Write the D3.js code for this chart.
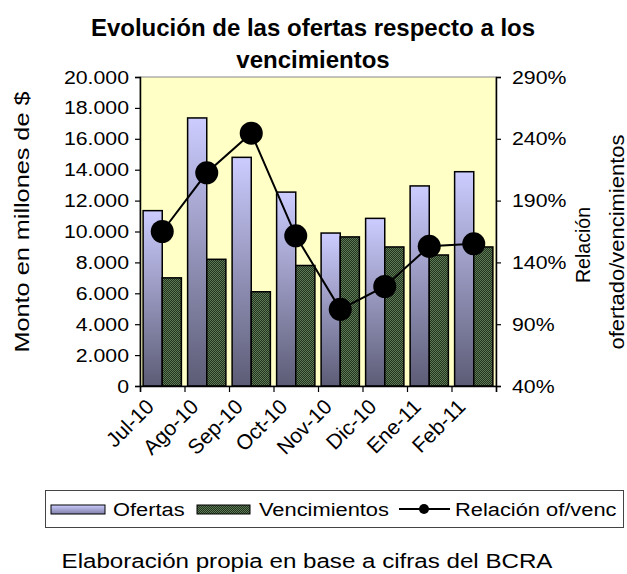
<!DOCTYPE html>
<html>
<head>
<meta charset="utf-8">
<script src="https://cdn.jsdelivr.net/npm/d3@7"></script>
<style>
  body { margin: 0; background: #fff; }
  text { font-family: "Liberation Sans", Arial, sans-serif; fill: #000; }
</style>
</head>
<body>
<svg id="chart"></svg>
<script>
const months = ["Jul-10", "Ago-10", "Sep-10", "Oct-10", "Nov-10", "Dic-10", "Ene-11", "Feb-11"];
const ofertas = [11350, 17350, 14800, 12550, 9900, 10850, 12950, 13870];
const vencimientos = [7000, 8200, 6100, 7800, 9650, 9000, 8480, 9000];
const relacion = [1.65, 2.125, 2.445, 1.615, 1.02, 1.205, 1.53, 1.55];
const leftTicks = [0, 2000, 4000, 6000, 8000, 10000, 12000, 14000, 16000, 18000, 20000];
const rightTicks = [0.4, 0.9, 1.4, 1.9, 2.4, 2.9];

const width = 627, height = 574;
const plot = { left: 140, right: 496, top: 77, bottom: 386 };
const sx = 1.15; // the reference text is a bit wider than plain Arial

const svg = d3.select('#chart')
    .attr('width', width)
    .attr('height', height);

const defs = svg.append('defs');
const grad = defs.append('linearGradient')
    .attr('id', 'gradOf').attr('x1', 0).attr('y1', 0).attr('x2', 0).attr('y2', 1);
grad.append('stop').attr('offset', '0%').attr('stop-color', '#ccccff');
grad.append('stop').attr('offset', '100%').attr('stop-color', '#5c5c76');

const gradLeg = defs.append('linearGradient')
    .attr('id', 'gradLeg').attr('x1', 0).attr('y1', 0).attr('x2', 0).attr('y2', 1);
gradLeg.append('stop').attr('offset', '0%').attr('stop-color', '#ccccff');
gradLeg.append('stop').attr('offset', '100%').attr('stop-color', '#8080a8');

const pat = defs.append('pattern')
    .attr('id', 'patV').attr('width', 2).attr('height', 2)
    .attr('patternUnits', 'userSpaceOnUse');
pat.append('rect').attr('width', 2).attr('height', 2).attr('fill', '#22331f');
pat.append('rect').attr('width', 1).attr('height', 1).attr('fill', '#5d7a55');
pat.append('rect').attr('x', 1).attr('y', 1).attr('width', 1).attr('height', 1).attr('fill', '#5d7a55');

// plot area
svg.append('rect')
    .attr('x', plot.left).attr('y', plot.top)
    .attr('width', plot.right - plot.left).attr('height', plot.bottom - plot.top)
    .attr('fill', '#ffffc6')
    .attr('stroke', '#888').attr('stroke-width', 1);

const x = d3.scaleBand().domain(months).range([plot.left, plot.right])
    .paddingInner(0.14).paddingOuter(0.07);
const xSub = d3.scaleBand().domain(['of', 've']).range([0, x.bandwidth()]);
const xTick = d3.scalePoint().domain(d3.range(months.length + 1)).range([plot.left, plot.right]);
const y = d3.scaleLinear().domain([0, 20000]).range([plot.bottom, plot.top]);
const y2 = d3.scaleLinear().domain([0.4, 2.9]).range([plot.bottom, plot.top]);

const esLocale = d3.formatLocale({ decimal: ",", thousands: ".", grouping: [3], currency: ["$", ""] });
const fmtLeft = esLocale.format(",");
const fmtRight = d3.format(".0%");

// widened text helper
function label(parent, tx, ty, txt, size, anchor, rot, scaleX) {
    const g = parent.append('g')
        .attr('transform', `translate(${tx},${ty}) rotate(${rot || 0}) scale(${scaleX || sx},1)`);
    g.append('text')
        .attr('text-anchor', anchor || 'start')
        .style('font-size', size + 'px')
        .text(txt);
    return g;
}

// bars
svg.selectAll('.of').data(ofertas).join('rect')
    .attr('class', 'of')
    .attr('x', (d, i) => x(months[i]) + xSub('of'))
    .attr('y', d => y(d))
    .attr('width', xSub.bandwidth())
    .attr('height', d => y(0) - y(d))
    .attr('fill', 'url(#gradOf)')
    .attr('stroke', '#000').attr('stroke-width', 1.5);

svg.selectAll('.ve').data(vencimientos).join('rect')
    .attr('class', 've')
    .attr('x', (d, i) => x(months[i]) + xSub('ve'))
    .attr('y', d => y(d))
    .attr('width', xSub.bandwidth())
    .attr('height', d => y(0) - y(d))
    .attr('fill', 'url(#patV)')
    .attr('stroke', '#000').attr('stroke-width', 1.5);

// axes
const axisLeft = svg.append('g').attr('transform', `translate(${plot.left},0)`)
    .call(d3.axisLeft(y).tickValues(leftTicks).tickFormat(fmtLeft).tickSize(5).tickPadding(6));
const axisRight = svg.append('g').attr('transform', `translate(${plot.right},0)`)
    .call(d3.axisRight(y2).tickValues(rightTicks).tickFormat(fmtRight).tickSize(5).tickPadding(10));
const axisBottom = svg.append('g').attr('transform', `translate(0,${plot.bottom})`)
    .call(d3.axisBottom(xTick).tickFormat('').tickSize(6));

[axisLeft, axisRight, axisBottom].forEach(g => {
    g.select('.domain').attr('stroke', '#000').attr('stroke-width', 1.5);
    g.selectAll('.tick line').attr('stroke', '#000').attr('stroke-width', 1.2);
    g.selectAll('.tick text').style('font-size', '19px').attr('fill', '#000')
        .style('font-family', '"Liberation Sans", Arial, sans-serif');
});
axisLeft.selectAll('.tick text').attr('transform', 'scale(1.12,1)').attr('x', -11 / 1.12);
axisRight.selectAll('.tick text').attr('transform', 'scale(1.12,1)').attr('x', 16 / 1.12);

// x category labels
const xlabs = svg.append('g');
months.forEach(m => {
    label(xlabs, x(m) + x.bandwidth() / 2 - 7, plot.bottom + 22, m, 21, 'end', -45, 1);
});

// line
const line = d3.line()
    .x((d, i) => x(months[i]) + x.bandwidth() / 2)
    .y(d => y2(d));
svg.append('path').datum(relacion)
    .attr('d', line)
    .attr('fill', 'none').attr('stroke', '#000').attr('stroke-width', 2);
svg.selectAll('.dot').data(relacion).join('circle')
    .attr('class', 'dot')
    .attr('cx', (d, i) => x(months[i]) + x.bandwidth() / 2)
    .attr('cy', d => y2(d))
    .attr('r', 11.5)
    .attr('fill', '#000');

// titles
svg.append('text').attr('x', 313).attr('y', 36).attr('text-anchor', 'middle')
    .style('font-size', '24px').style('font-weight', 'bold')
    .text('Evolución de las ofertas respecto a los');
svg.append('text').attr('x', 313).attr('y', 68).attr('text-anchor', 'middle')
    .style('font-size', '24px').style('font-weight', 'bold')
    .text('vencimientos');

svg.append('text')
    .attr('transform', 'translate(29,222) rotate(-90)')
    .attr('text-anchor', 'middle')
    .attr('textLength', 261).attr('lengthAdjust', 'spacingAndGlyphs')
    .style('font-size', '21px')
    .text('Monto en millones de $');

svg.append('text')
    .attr('transform', 'translate(590,245) rotate(-90)')
    .attr('text-anchor', 'middle')
    .attr('textLength', 76).attr('lengthAdjust', 'spacingAndGlyphs')
    .style('font-size', '20px')
    .text('Relación');
svg.append('text')
    .attr('transform', 'translate(624,242) rotate(-90)')
    .attr('text-anchor', 'middle')
    .attr('textLength', 215).attr('lengthAdjust', 'spacingAndGlyphs')
    .style('font-size', '20px')
    .text('ofertado/vencimientos');

// legend
const leg = svg.append('g');
leg.append('rect')
    .attr('x', 45.5).attr('y', 490.5).attr('width', 578).attr('height', 37)
    .attr('fill', '#fff').attr('stroke', '#444').attr('stroke-width', 1);
leg.append('rect')
    .attr('x', 51).attr('y', 505).attr('width', 54).attr('height', 9)
    .attr('fill', 'url(#gradLeg)').attr('stroke', '#000').attr('stroke-width', 1);
label(leg, 113, 516, 'Ofertas', 19);
leg.append('rect')
    .attr('x', 197).attr('y', 505).attr('width', 53).attr('height', 9)
    .attr('fill', 'url(#patV)').attr('stroke', '#000').attr('stroke-width', 1);
label(leg, 259, 516, 'Vencimientos', 19);
leg.append('line')
    .attr('x1', 399).attr('x2', 450).attr('y1', 509).attr('y2', 509)
    .attr('stroke', '#000').attr('stroke-width', 2);
leg.append('circle').attr('cx', 424).attr('cy', 509).attr('r', 5).attr('fill', '#000');
label(leg, 455, 516, 'Relación of/venc', 19);

// note
label(svg, 307, 568, 'Elaboración propia en base a cifras del BCRA', 21, 'middle');
</script>
</body>
</html>
